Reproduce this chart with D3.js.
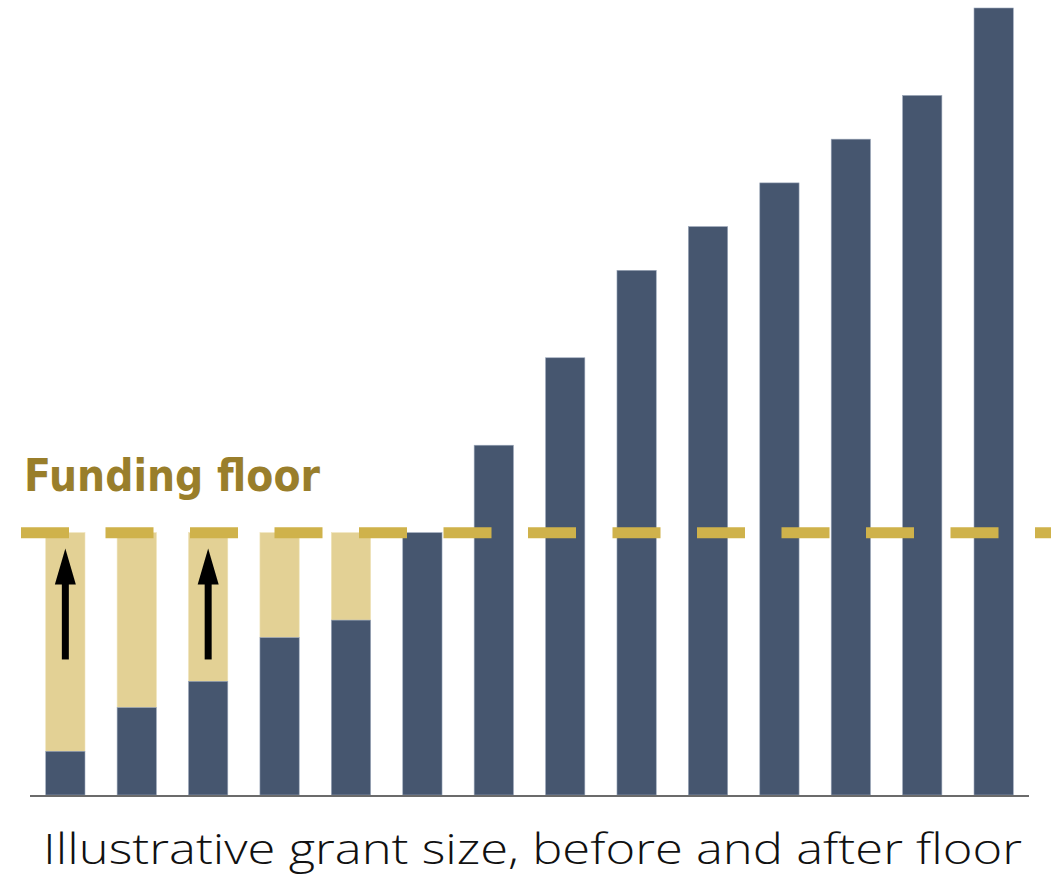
<!DOCTYPE html>
<html>
<head>
<meta charset="utf-8">
<script src="https://cdn.jsdelivr.net/npm/d3@7"></script>
<style>
  html, body { margin: 0; padding: 0; background: #fff; }
  svg { display: block; }
</style>
</head>
<body>
<svg id="chart"></svg>
<script>
// grant sizes before floor (arbitrary units)
var grants = [5, 10, 13, 18, 20, 30, 40, 50, 60, 65, 70, 75, 80, 90]
var floorValue = 30
var arrowBars = [0, 2]          // bars that get an up arrow
var arrowRange = [15.5, 28.2]   // arrow from / to, in value units
var floorLabel = "Funding floor"
var xTitle = "Illustrative grant size, before and after floor"

var dimensions = {
    width: 1056,
    height: 876,
    margin: { top: 8, bottom: 81, left: 30, right: 27 }
}

var svg = d3.select("#chart")
    .attr("width", dimensions.width)
    .attr("height", dimensions.height)

var xScale = d3.scaleBand()
    .domain(d3.range(grants.length))
    .range([dimensions.margin.left, dimensions.width - dimensions.margin.right])
    .paddingInner(0.45)
    .paddingOuter(0.22)

var yScale = d3.scaleLinear()
    .domain([0, 90])
    .range([dimensions.height - dimensions.margin.bottom, dimensions.margin.top])

// top-up part (from grant to floor)
svg.append("g")
    .selectAll("rect")
    .data(grants.map(function(d, i){ return {i: i, v: d} }).filter(function(d){ return d.v < floorValue }))
    .enter()
    .append("rect")
    .attr("x", function(d){ return xScale(d.i) })
    .attr("width", xScale.bandwidth())
    .attr("y", yScale(floorValue))
    .attr("height", function(d){ return yScale(d.v) - yScale(floorValue) })
    .attr("fill", "#e3d195")
    .attr("stroke", "#efe3b8")
    .attr("stroke-width", 0.6)

// original grants
svg.append("g")
    .selectAll("rect")
    .data(grants)
    .enter()
    .append("rect")
    .attr("x", function(d, i){ return xScale(i) })
    .attr("width", xScale.bandwidth())
    .attr("y", function(d){ return yScale(d) })
    .attr("height", function(d){ return yScale(0) - yScale(d) })
    .attr("fill", "#46566f")
    .attr("stroke", "#9aa6b8")
    .attr("stroke-width", 0.6)

// axis line
svg.append("line")
    .attr("x1", dimensions.margin.left)
    .attr("x2", dimensions.width - dimensions.margin.right)
    .attr("y1", yScale(0) + 1)
    .attr("y2", yScale(0) + 1)
    .attr("stroke", "#6b6b6b")
    .attr("stroke-width", 1.8)

// floor line
svg.append("line")
    .attr("x1", 21)
    .attr("x2", 1051)
    .attr("y1", yScale(floorValue))
    .attr("y2", yScale(floorValue))
    .attr("stroke", "#cfb24b")
    .attr("stroke-width", 11)
    .attr("stroke-dasharray", "48 36.5")

svg.append("text")
    .attr("x", 24)
    .attr("y", 491)
    .attr("fill", "#997e2b")
    .style("font-family", "'DejaVu Sans', sans-serif")
    .style("font-weight", "bold")
    .style("font-size", "44px")
    .attr("textLength", 296)
    .attr("lengthAdjust", "spacingAndGlyphs")
    .text(floorLabel)

// arrows
var arrows = svg.append("g")
    .selectAll("g")
    .data(arrowBars)
    .enter()
    .append("g")
arrows.append("line")
    .attr("x1", function(d){ return xScale(d) + xScale.bandwidth() / 2 })
    .attr("x2", function(d){ return xScale(d) + xScale.bandwidth() / 2 })
    .attr("y1", yScale(arrowRange[0]))
    .attr("y2", yScale(arrowRange[1]) + 30)
    .attr("stroke", "#000")
    .attr("stroke-width", 7)
arrows.append("path")
    .attr("d", function(d){
        var cx = xScale(d) + xScale.bandwidth() / 2
        var tip = yScale(arrowRange[1])
        return "M" + cx + "," + tip + "L" + (cx + 10.5) + "," + (tip + 36) + "L" + (cx - 10.5) + "," + (tip + 36) + "Z"
    })
    .attr("fill", "#000")

svg.append("text")
    .attr("x", 43)
    .attr("y", 864)
    .attr("fill", "#111")
    .style("font-family", "'Open Sans', 'DejaVu Sans', sans-serif")
    .style("font-weight", "300")
    .style("font-size", "43px")
    .attr("textLength", 979)
    .attr("lengthAdjust", "spacingAndGlyphs")
    .text(xTitle)
</script>
</body>
</html>
